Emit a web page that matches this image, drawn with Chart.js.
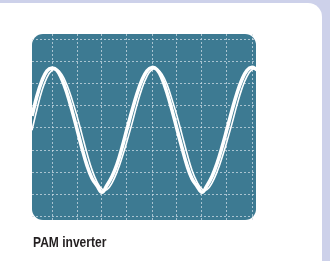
<!DOCTYPE html>
<html>
<head>
<meta charset="utf-8">
<script src="https://cdn.jsdelivr.net/npm/chart.js@4"></script>
<style>
  html, body { margin:0; padding:0; }
  body { width:330px; height:261px; background:#cdd1ea; position:relative; overflow:hidden; }
  #panel { position:absolute; left:0; top:3px; width:322px; height:270px; background:#ffffff; border-top-right-radius:14px; }
  #chart { position:absolute; left:0; top:0; }
  #label { position:absolute; left:33px; top:234px; font-family:"Liberation Sans Narrow","Arial Narrow","Liberation Sans",sans-serif; font-weight:bold; font-size:14px; line-height:16px; color:#231f20; transform:scaleX(0.86); transform-origin:left top; white-space:nowrap; }
</style>
</head>
<body>
<div id="panel"></div>
<canvas id="chart" width="330" height="261"></canvas>
<div id="label">PAM inverter</div>
<script>
// time axis in screen divisions
const xs = [-0.8,-0.6,-0.4,-0.2,0,0.2,0.4,0.6,0.8,1.0,1.2,1.4,1.6,1.8,2.0,2.2,2.4,2.6,2.8,3.0,3.2,3.4,3.6,3.8,4.0,4.2,4.4,4.6,4.8,5.0,5.2,5.4,5.6,5.8,6.0,6.2,6.4,6.6,6.8,7.0,7.2,7.4,7.6,7.8,8.0,8.2];
// main (thick) trace, in vertical divisions
const mainTrace = [0.55,1.45,2.15,2.6,2.72,2.62,2.2,1.58,0.8,-0.05,-0.92,-1.7,-2.28,-2.62,-2.92,-2.6,-2.2,-1.65,-0.9,-0.05,0.78,1.55,2.18,2.6,2.75,2.65,2.25,1.6,0.82,-0.05,-0.9,-1.7,-2.3,-2.64,-2.92,-2.62,-2.2,-1.62,-0.88,-0.05,0.8,1.58,2.2,2.62,2.76,2.65];
// second (thin) trace
const altTrace = [-0.1,0.85,1.7,2.3,2.62,2.66,2.42,1.95,1.3,0.55,-0.3,-1.15,-1.9,-2.45,-2.78,-2.8,-2.5,-2.0,-1.35,-0.6,0.2,1.05,1.8,2.35,2.65,2.68,2.45,1.98,1.3,0.55,-0.3,-1.15,-1.92,-2.45,-2.78,-2.8,-2.5,-2.0,-1.35,-0.6,0.2,1.05,1.8,2.35,2.65,2.7];
const xRange = [-0.8, 8.16];
const yRange = [-4.18, 4.27];

const screenPlugin = {
  id: 'screen',
  beforeDraw(chart) {
    const {ctx, chartArea:a} = chart;
    ctx.save();
    ctx.fillStyle = '#3d7a92';
    ctx.beginPath();
    ctx.roundRect(a.left, a.top, a.right - a.left, a.bottom - a.top, 11);
    ctx.fill();
    ctx.restore();
  }
};

const gridOpts = { color:'rgba(205,220,228,0.75)', lineWidth:1, drawTicks:false };
new Chart(document.getElementById('chart'), {
  type: 'scatter',
  data: {
    datasets: [
      { data: xs.map((x,i)=>({x, y: altTrace[i]})), showLine:true, borderColor:'#ffffff', borderWidth:1.6, pointRadius:0, tension:0.4 },
      { data: xs.map((x,i)=>({x, y: mainTrace[i]})), showLine:true, borderColor:'#ffffff', borderWidth:3.6, pointRadius:0, tension:0.4 }
    ]
  },
  options: {
    responsive:false, animation:false,
    layout:{ padding:{ left:32, top:34, right:74, bottom:41 } },
    plugins:{ legend:{display:false}, tooltip:{enabled:false} },
    scales:{
      x:{ min:xRange[0], max:xRange[1], ticks:{display:false, stepSize:1, includeBounds:false}, grid:gridOpts, border:{display:false, dash:[2,2]} },
      y:{ min:yRange[0], max:yRange[1], ticks:{display:false, stepSize:1, includeBounds:false}, grid:gridOpts, border:{display:false, dash:[2,2]} }
    }
  },
  plugins:[screenPlugin]
});
</script>
</body>
</html>
